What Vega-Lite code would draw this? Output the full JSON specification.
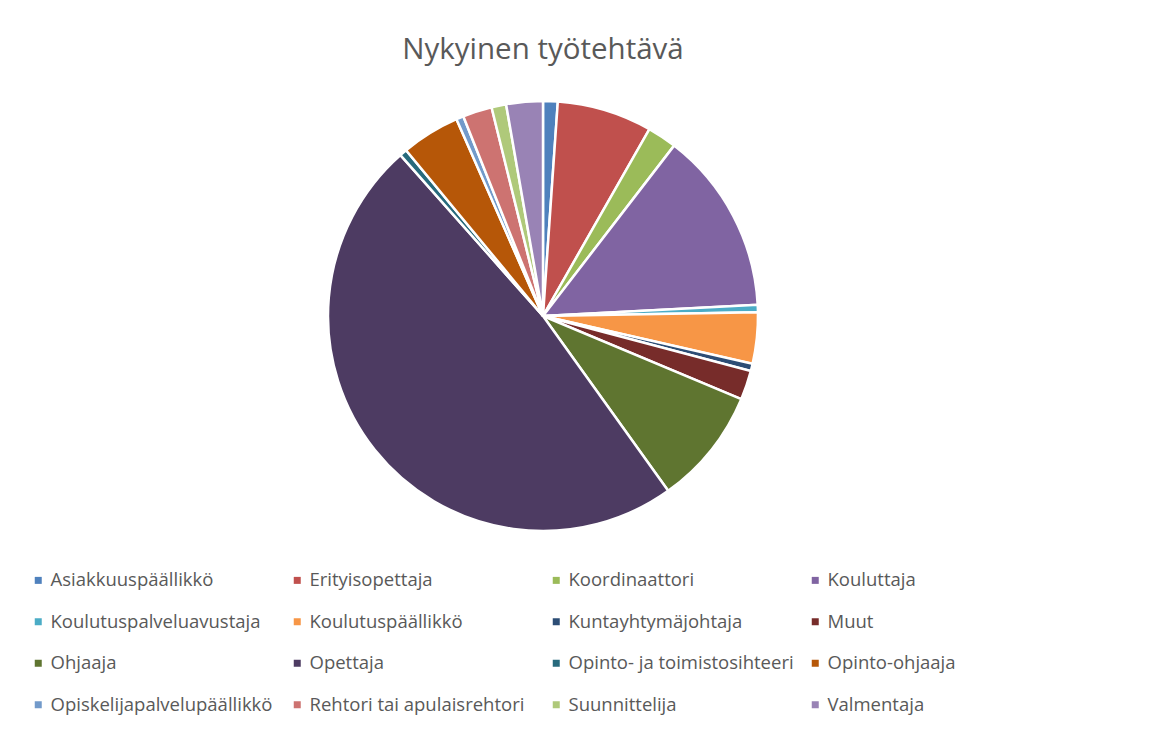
{
  "$schema": "https://vega.github.io/schema/vega-lite/v6.json",
  "autosize": {"type": "none"},
  "width": 1086,
  "height": 452,
  "padding": {"left": 0, "top": 90, "right": 63, "bottom": 189},
  "background": "white",
  "title": {"text": "Nykyinen työtehtävä", "font": "Open Sans", "fontSize": 29.5, "fontWeight": "normal", "color": "#595959", "anchor": "middle", "offset": 25},
  "data": {"values": [
    {"tehtava": "Asiakkuuspäällikkö", "count": 2},
    {"tehtava": "Erityisopettaja", "count": 13},
    {"tehtava": "Koordinaattori", "count": 4},
    {"tehtava": "Kouluttaja", "count": 25},
    {"tehtava": "Koulutuspalveluavustaja", "count": 1},
    {"tehtava": "Koulutuspäällikkö", "count": 7},
    {"tehtava": "Kuntayhtymäjohtaja", "count": 1},
    {"tehtava": "Muut", "count": 4},
    {"tehtava": "Ohjaaja", "count": 16},
    {"tehtava": "Opettaja", "count": 88},
    {"tehtava": "Opinto- ja toimistosihteeri", "count": 1},
    {"tehtava": "Opinto-ohjaaja", "count": 8},
    {"tehtava": "Opiskelijapalvelupäällikkö", "count": 1},
    {"tehtava": "Rehtori tai apulaisrehtori", "count": 4},
    {"tehtava": "Suunnittelija", "count": 2},
    {"tehtava": "Valmentaja", "count": 5}
  ]},
  "transform": [{"window": [{"op": "row_number", "as": "idx"}]}],
  "mark": {"type": "arc", "outerRadius": 215, "stroke": "white", "strokeWidth": 2.5},
  "encoding": {
    "theta": {"field": "count", "type": "quantitative", "stack": true},
    "order": {"field": "idx", "type": "quantitative"},
    "color": {
      "field": "tehtava",
      "type": "nominal",
      "scale": {
        "domain": ["Asiakkuuspäällikkö", "Erityisopettaja", "Koordinaattori", "Kouluttaja", "Koulutuspalveluavustaja", "Koulutuspäällikkö", "Kuntayhtymäjohtaja", "Muut", "Ohjaaja", "Opettaja", "Opinto- ja toimistosihteeri", "Opinto-ohjaaja", "Opiskelijapalvelupäällikkö", "Rehtori tai apulaisrehtori", "Suunnittelija", "Valmentaja"],
        "range": ["#4F81BD", "#C0504D", "#9BBB59", "#8064A2", "#4BACC6", "#F79646", "#2C4D75", "#772C2A", "#5F7530", "#4D3B62", "#276A7C", "#B65708", "#729ACA", "#CD7371", "#AFC97A", "#9983B5"]
      },
      "legend": {
        "title": null,
        "orient": "none",
        "legendX": 29,
        "legendY": 481,
        "direction": "horizontal",
        "columns": 4,
        "gridAlign": "all",
        "columnPadding": 12,
        "rowPadding": 22.5,
        "symbolType": "square",
        "symbolSize": 49,
        "symbolStrokeWidth": 0,
        "labelFont": "Open Sans",
        "labelFontSize": 18.5,
        "labelColor": "#595959",
        "labelOffset": 3,
        "labelLimit": 0,
        "padding": 0
      }
    }
  },
  "config": {"view": {"stroke": null}}
}
